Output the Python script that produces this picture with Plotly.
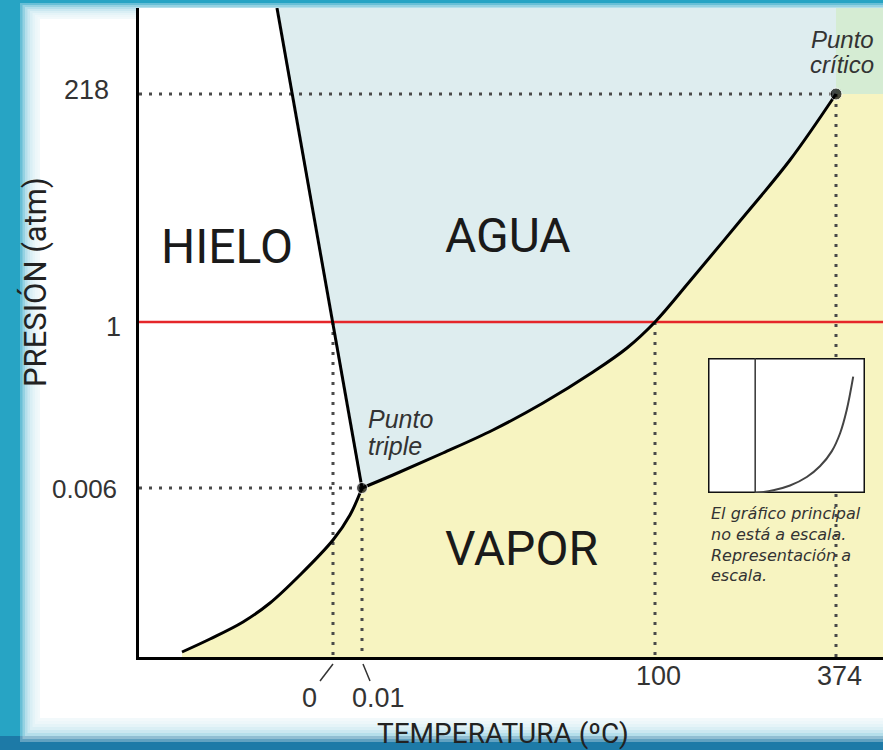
import plotly.graph_objects as go

W, H = 883, 750

# ---- Schematic (not to scale) phase diagram data, in diagram units ----
sublim_t = [43, 71, 104, 131, 161, 194, 211, 223]
sublim_p = [5, 18, 35, 54, 82, 117, 142, 169]
vapor_t = [223, 254, 304, 354, 404, 454, 488, 516, 551, 601, 651, 697]
vapor_p = [169, 182, 204, 227, 254, 285, 309, 335, 376, 436, 497, 563]
fusion_t = [223, 138]
fusion_p = [169, 649]

point_t = [223, 697]          # triple point, critical point
point_p = [169, 563]

temp_labels = ["0", "0.01", "100", "374"]
temp_pos = [194, 223, 516, 697]
press_labels = ["0.006", "1", "218"]
press_pos = [169, 335, 563]

# Inset (drawn to scale): curve (°C, atm)
inset_t = [0, 69, 133, 197, 247, 292, 324, 349, 374]
inset_p = [0, 5, 14, 30, 50, 78, 112, 155, 218]

X_MAX, Y_MAX = 744, 649
IN_X = [-180, 419]
IN_Y = [0, 253]

BLUE = "#deedef"
YELLOW = "#f7f4c1"
GREEN = "#d5ecd3"
DOT = "#4a4a4a"
RED = "#e5262a"
FONT = "Liberation Sans, Arial, sans-serif"
BIG = "Roboto, Liberation Sans, Arial, sans-serif"

fig = go.Figure()

# ---- region fills ----
yel_x = [sublim_t[0]] + sublim_t + vapor_t[1:] + [X_MAX, X_MAX, sublim_t[0]]
yel_y = [0] + sublim_p + vapor_p[1:] + [vapor_p[-1], 0, 0]
fig.add_trace(go.Scatter(x=yel_x, y=yel_y, fill="toself", fillcolor=YELLOW,
                         mode="lines", line=dict(width=0), hoverinfo="skip"))
blue_x = [fusion_t[1], fusion_t[0]] + vapor_t[1:] + [vapor_t[-1], fusion_t[1]]
blue_y = [fusion_p[1], fusion_p[0]] + vapor_p[1:] + [Y_MAX, Y_MAX]
fig.add_trace(go.Scatter(x=blue_x, y=blue_y, fill="toself", fillcolor=BLUE,
                         mode="lines", line=dict(width=0), hoverinfo="skip"))
fig.add_trace(go.Scatter(x=[point_t[1], X_MAX, X_MAX, point_t[1], point_t[1]],
                         y=[point_p[1], point_p[1], Y_MAX, Y_MAX, point_p[1]],
                         fill="toself", fillcolor=GREEN, mode="lines",
                         line=dict(width=0), hoverinfo="skip"))

# ---- dotted guide lines ----
dot_line = dict(color=DOT, width=3, dash="3px,7px")
guides = [
    ([0, point_t[1]], [press_pos[2], press_pos[2]]),
    ([temp_pos[3], temp_pos[3]], [point_p[1], 0]),
    ([0, point_t[0]], [press_pos[0], press_pos[0]]),
    ([temp_pos[1], temp_pos[1]], [point_p[0], 0]),
    ([temp_pos[0], temp_pos[0]], [press_pos[1], 0]),
    ([temp_pos[2], temp_pos[2]], [press_pos[1], 0]),
]
for gx, gy in guides:
    fig.add_trace(go.Scatter(x=gx, y=gy, mode="lines", line=dot_line, hoverinfo="skip"))

# ---- 1 atm line ----
fig.add_trace(go.Scatter(x=[0, X_MAX], y=[press_pos[1], press_pos[1]], mode="lines",
                         line=dict(color=RED, width=2.5), hoverinfo="skip"))

# ---- phase boundaries ----
for cx, cy in [(sublim_t, sublim_p), (vapor_t, vapor_p), (fusion_t, fusion_p)]:
    fig.add_trace(go.Scatter(x=cx, y=cy, mode="lines",
                             line=dict(color="black", width=3, shape="spline", smoothing=1),
                             hoverinfo="skip"))
fig.add_trace(go.Scatter(x=point_t, y=point_p, mode="markers",
                         marker=dict(color="black", size=[11, 12]), hoverinfo="skip"))

# ---- inset ----
fig.add_trace(go.Scatter(x=[IN_X[0], IN_X[1], IN_X[1], IN_X[0], IN_X[0]],
                         y=[IN_Y[0], IN_Y[0], IN_Y[1], IN_Y[1], IN_Y[0]],
                         fill="toself", fillcolor="white", mode="lines",
                         line=dict(color="#111", width=3), xaxis="x2", yaxis="y2",
                         hoverinfo="skip"))
fig.add_trace(go.Scatter(x=[0, 0], y=IN_Y, mode="lines", line=dict(color="#333", width=1.5),
                         xaxis="x2", yaxis="y2", hoverinfo="skip"))
fig.add_trace(go.Scatter(x=inset_t, y=inset_p, mode="lines",
                         line=dict(color="#444", width=2, shape="spline"),
                         xaxis="x2", yaxis="y2", hoverinfo="skip"))

# ---- frame (teal border with soft white inner glow) ----
def px(v):
    return v / W

def py(v):
    return 1 - v / H

shapes = [dict(type="rect", xref="paper", yref="paper", x0=0, x1=1, y0=0, y1=py(736),
               fillcolor="#1d7aa7", line=dict(width=0), layer="below")]
n = 9
for i in range(n):
    t = i / (n - 1)
    shapes.append(dict(type="rect", xref="paper", yref="paper",
                       x0=px(20 + 20 * t), x1=1.01, y0=py(742 - 24 * t), y1=py(3 + 16 * t),
                       fillcolor="white", opacity=0.3, line=dict(width=0), layer="below"))
shapes.append(dict(type="rect", xref="paper", yref="paper", x0=px(40), x1=1.01,
                   y0=py(718), y1=py(19), fillcolor="white", line=dict(width=0), layer="below"))
# leader lines for the 0 and 0.01 labels
shapes.append(dict(type="line", xref="x", yref="paper", x0=temp_pos[0], x1=temp_pos[0] - 13,
                   y0=py(664), y1=py(681), line=dict(color="#333", width=1.5)))
shapes.append(dict(type="line", xref="x", yref="paper", x0=temp_pos[1] + 1, x1=temp_pos[1] + 8,
                   y0=py(664), y1=py(681), line=dict(color="#333", width=1.5)))

ann = []
def label(text, x, y, size, xref="x", yref="y", xanchor="center", italic=False,
          family=FONT, color="#1a1a1a", angle=0):
    ann.append(dict(text=text, x=x, y=y, xref=xref, yref=yref, xanchor=xanchor,
                    yanchor="middle", showarrow=False, textangle=angle, align="left",
                    font=dict(family=family, size=size, color=color,
                              style="italic" if italic else "normal")))

label("HIELO", 88, 411, 48, family=BIG)
label("AGUA", 369, 422, 48, family=BIG)
label("VAPOR", 382, 109, 48, family=BIG)
label("Punto", 227, 238, 25, xanchor="left", italic=True, color="#333")
label("triple", 227, 211, 25, xanchor="left", italic=True, color="#333")
label("Punto", 737, 618, 24, xanchor="right", italic=True, color="#333")
label("crítico", 737, 593, 24, xanchor="right", italic=True, color="#333")
# pressure tick labels
label(press_labels[0], px(119), press_pos[0] - 1, 26, xref="paper", xanchor="right", color="#333")
label(press_labels[1], px(123), press_pos[1] - 5, 27, xref="paper", xanchor="right", color="#333")
label(press_labels[2], px(111), press_pos[2] + 4, 27, xref="paper", xanchor="right", color="#333")
# temperature tick labels (0 and 0.01 offset with leader lines)
label(temp_labels[0], temp_pos[0] - 24, py(698), 27, yref="paper", color="#333")
label(temp_labels[1], temp_pos[1] + 16, py(698), 27, yref="paper", color="#333")
label(temp_labels[2], temp_pos[2] + 3, py(676), 27, yref="paper", color="#333")
label(temp_labels[3], temp_pos[3] + 3, py(676), 27, yref="paper", color="#333")
cap = ["El gráfico principal", "no está a escala.", "Representación a", "escala."]
label("<br>".join(cap), px(709), py(544), 16, xref="paper", yref="paper", xanchor="left",
      italic=True, family="DejaVu Sans, sans-serif", color="#333")
label("PRESIÓN (atm)", px(35), py(282), 31, xref="paper", yref="paper", angle=-90,
      family=BIG, color="#222")
label("TEMPERATURA (ºC)", px(503), py(733), 28, xref="paper", yref="paper",
      family=BIG, color="#222")

fig.update_layout(
    width=W, height=H, margin=dict(l=0, r=0, t=0, b=0),
    paper_bgcolor="#27a4c4", plot_bgcolor="white", showlegend=False,
    font=dict(family=FONT),
    xaxis=dict(domain=[px(139), 1], range=[0, X_MAX], showline=True, linecolor="black",
               linewidth=3, showgrid=False, zeroline=False, showticklabels=False, ticks="",
               automargin=False, fixedrange=True),
    yaxis=dict(domain=[py(657), py(8)], range=[0, Y_MAX], showline=True, linecolor="black",
               linewidth=2.5, showgrid=False, zeroline=False, showticklabels=False, ticks="",
               automargin=False, fixedrange=True),
    xaxis2=dict(domain=[px(708), px(865)], range=IN_X, visible=False, anchor="y2",
                fixedrange=True),
    yaxis2=dict(domain=[py(493), py(358)], range=IN_Y, visible=False, anchor="x2",
                fixedrange=True),
    shapes=shapes, annotations=ann,
)

fig.write_html("out.html", config={"displayModeBar": False},
               post_script="document.body.style.margin='0px';")
